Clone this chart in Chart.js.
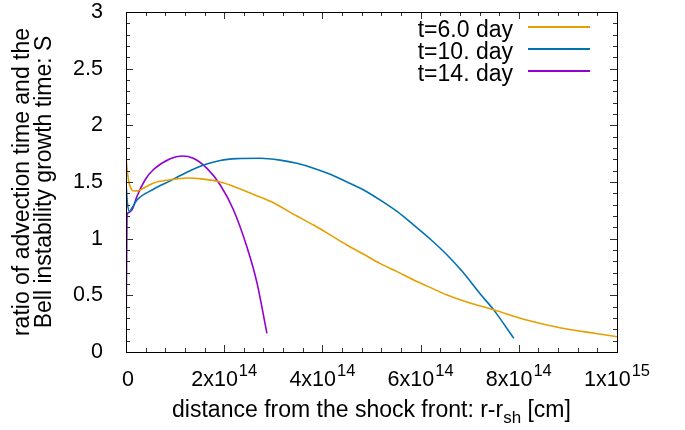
<!DOCTYPE html>
<html><head><meta charset="utf-8">
<script src="https://cdn.jsdelivr.net/npm/chart.js@4.4.1/dist/chart.umd.min.js"></script>
<style>html,body{margin:0;padding:0;background:#fff}</style>
</head><body><canvas id="c" width="685" height="430"></canvas>
<script>
// ---- data (x in units of 1e14 cm) ----
const XUNIT = 1e14;
const seriesLabels = ['t=6.0 day', 't=10. day', 't=14. day'];
const seriesColors = ['#E69F00', '#0072B2', '#9400D3'];

const x6  = [0, 0.03, 0.07, 0.12, 0.18, 0.29, 0.55, 0.9, 1.24, 1.58, 1.92, 2.26, 2.6, 2.94, 3.48, 3.82, 4.16, 4.5, 4.84, 5.18, 5.52, 5.86, 6.2, 6.54, 6.88, 7.22, 7.5, 8.18, 8.86, 9.54, 10.0];
const y6  = [1.72, 1.58, 1.48, 1.43, 1.42, 1.43, 1.49, 1.52, 1.535, 1.525, 1.50, 1.45, 1.39, 1.33, 1.20, 1.12, 1.033, 0.944, 0.862, 0.78, 0.709, 0.635, 0.568, 0.503, 0.45, 0.406, 0.37, 0.28, 0.212, 0.165, 0.135];

const x10 = [0, 0.03, 0.07, 0.12, 0.22, 0.56, 0.9, 1.24, 1.58, 1.92, 2.26, 2.73, 3.14, 3.48, 3.82, 4.16, 4.5, 4.84, 5.18, 5.52, 5.86, 6.2, 6.54, 6.85, 7.22, 7.5, 7.9];
const y10 = [1.49, 1.31, 1.24, 1.27, 1.34, 1.436, 1.51, 1.586, 1.65, 1.69, 1.706, 1.71, 1.693, 1.665, 1.622, 1.568, 1.50, 1.43, 1.34, 1.24, 1.12, 0.995, 0.856, 0.71, 0.51, 0.365, 0.12];

const x14 = [0, 0.02, 0.05, 0.09, 0.14, 0.22, 0.39, 0.56, 0.9, 1.14, 1.37, 1.65, 1.92, 2.19, 2.46, 2.67, 2.87];
const y14 = [0.02, 1.2, 1.23, 1.24, 1.27, 1.37, 1.52, 1.61, 1.706, 1.73, 1.71, 1.62, 1.474, 1.253, 0.93, 0.606, 0.165];

const xTickValues = [0, 2, 4, 6, 8, 10];           // in 1e14
const xTickMantissa = ['0', '2x10', '4x10', '6x10', '8x10', '1x10'];
const xTickExponent = ['', '14', '14', '14', '14', '15'];
const xMinorStep = 0.4;
const yMin = 0, yMax = 3, yStep = 0.5, yMinorStep = 0.1;

const yTitle = ['ratio of advection time and the', 'Bell instability growth time: S'];
const xTitleParts = ['distance from the shock front: r-r', 'sh', ' [cm]'];

const FONT = '"Liberation Sans", Arial, Helvetica, sans-serif';
const FS = 21.5;   // tick labels
const FT = 23;     // titles and legend

function pts(xs, ys) { return xs.map((x, i) => ({ x: x * XUNIT, y: ys[i] })); }

function drawFrame(chart) {
  const ctx = chart.ctx;
  const a = chart.chartArea;
  const sx = chart.scales.x, sy = chart.scales.y;
  const L = Math.round(a.left), R = Math.round(a.right);
  const T = Math.round(a.top), B = Math.round(a.bottom);
  ctx.save();
  ctx.fillStyle = '#333';
  for (let k = 0; k <= 25; k++) {
    const len = (k % 5 === 0) ? 7 : 4;
    const px = Math.round(sx.getPixelForValue(k * xMinorStep * XUNIT));
    ctx.fillRect(px, B - len, 1, len);
    ctx.fillRect(px, T, 1, len);
  }
  for (let k = 0; k <= 30; k++) {
    const len = (k % 5 === 0) ? 7 : 4;
    const py = Math.round(sy.getPixelForValue(yMin + k * yMinorStep));
    ctx.fillRect(L, py, len, 1);
    ctx.fillRect(R - len, py, len, 1);
  }
  ctx.fillStyle = '#000';
  ctx.fillRect(L, T, R - L + 1, 1);
  ctx.fillRect(L, B, R - L + 1, 1);
  ctx.fillRect(L, T, 1, B - T + 1);
  ctx.fillRect(R, T, 1, B - T + 1);
  ctx.restore();
}

const decor = {
  id: 'decor',
  afterDatasetsDraw(chart) { drawFrame(chart); },
  afterDraw(chart) {
    const ctx = chart.ctx;
    const a = chart.chartArea;
    const sx = chart.scales.x;
    drawFrame(chart);
    ctx.save();
    ctx.fillStyle = '#000';
    ctx.textBaseline = 'alphabetic';
    ctx.textAlign = 'left';
    const base = 386, supFS = 16.5;
    xTickValues.forEach((v, i) => {
      const px = sx.getPixelForValue(v * XUNIT);
      ctx.font = FS + 'px ' + FONT;
      const w1 = ctx.measureText(xTickMantissa[i]).width;
      ctx.font = supFS + 'px ' + FONT;
      const w2 = xTickExponent[i] ? ctx.measureText(xTickExponent[i]).width + 1 : 0;
      const start = px - (w1 + w2) / 2 + (i === 0 ? 2 : 0);
      ctx.font = FS + 'px ' + FONT;
      ctx.fillText(xTickMantissa[i], start, base);
      if (xTickExponent[i]) {
        ctx.font = supFS + 'px ' + FONT;
        ctx.fillText(xTickExponent[i], start + w1 + 1, base - 10);
      }
    });
    const tb = 416.5, subFS = 17;
    ctx.font = FT + 'px ' + FONT;
    const t1 = ctx.measureText(xTitleParts[0]).width;
    const t3 = ctx.measureText(xTitleParts[2]).width;
    ctx.font = subFS + 'px ' + FONT;
    const t2 = ctx.measureText(xTitleParts[1]).width;
    const x0 = (a.left + a.right) / 2 - (t1 + t2 + t3) / 2;
    ctx.font = FT + 'px ' + FONT;
    ctx.fillText(xTitleParts[0], x0, tb);
    ctx.font = subFS + 'px ' + FONT;
    ctx.fillText(xTitleParts[1], x0 + t1, tb + 6);
    ctx.font = FT + 'px ' + FONT;
    ctx.fillText(xTitleParts[2], x0 + t1 + t2, tb);
    chart.data.datasets.forEach((ds, i) => {
      const bl = 36.5 + 22.4 * i;
      ctx.font = FT + 'px ' + FONT;
      ctx.textAlign = 'right';
      ctx.fillStyle = '#000';
      ctx.fillText(ds.label, 513, bl);
      ctx.fillStyle = ds.borderColor;
      ctx.fillRect(528, Math.round(bl - 11), 62, 2);
    });
    ctx.restore();
  }
};

const edge = { display: true, color: '#000', width: 1 };

new Chart(document.getElementById('c'), {
  type: 'line',
  data: {
    datasets: [
      { label: seriesLabels[0], data: pts(x6, y6), borderColor: seriesColors[0], borderWidth: 1.6, pointRadius: 0, cubicInterpolationMode: 'monotone' },
      { label: seriesLabels[1], data: pts(x10, y10), borderColor: seriesColors[1], borderWidth: 1.6, pointRadius: 0, cubicInterpolationMode: 'monotone' },
      { label: seriesLabels[2], data: pts(x14, y14), borderColor: seriesColors[2], borderWidth: 1.6, pointRadius: 0, cubicInterpolationMode: 'monotone' }
    ]
  },
  options: {
    responsive: false, animation: false, devicePixelRatio: 1,
    layout: { padding: { left: 0, right: 68, top: 12, bottom: 0 } },
    plugins: { legend: { display: false }, tooltip: { enabled: false } },
    scales: {
      x: { type: 'linear', position: 'bottom', min: 0, max: 10 * XUNIT, ticks: { display: false, stepSize: 2 * XUNIT }, grid: { display: false }, border: edge, afterFit(s) { s.height = 78; } },
      x2: { type: 'linear', position: 'top', min: 0, max: 10 * XUNIT, ticks: { display: false }, grid: { display: false }, border: edge, afterFit(s) { s.height = 0; } },
      y: { min: yMin, max: yMax, ticks: { stepSize: yStep, padding: 15, color: '#000', font: { family: FONT, size: FS, lineHeight: 1 }, callback: v => String(Math.round(v * 10) / 10) },
           grid: { display: false }, border: edge,
           title: { display: true, text: yTitle, color: '#000', font: { family: FONT, size: FT, lineHeight: '22px' }, padding: { top: 12, bottom: 0 } },
           afterFit(s) { s.width = 126; s.paddingTop = 0; s.paddingBottom = 0; } },
      y2: { position: 'right', min: yMin, max: yMax, ticks: { display: false }, grid: { display: false }, border: edge, afterFit(s) { s.width = 0; s.paddingTop = 0; s.paddingBottom = 0; } }
    }
  },
  plugins: [decor]
});
</script>
</body></html>
